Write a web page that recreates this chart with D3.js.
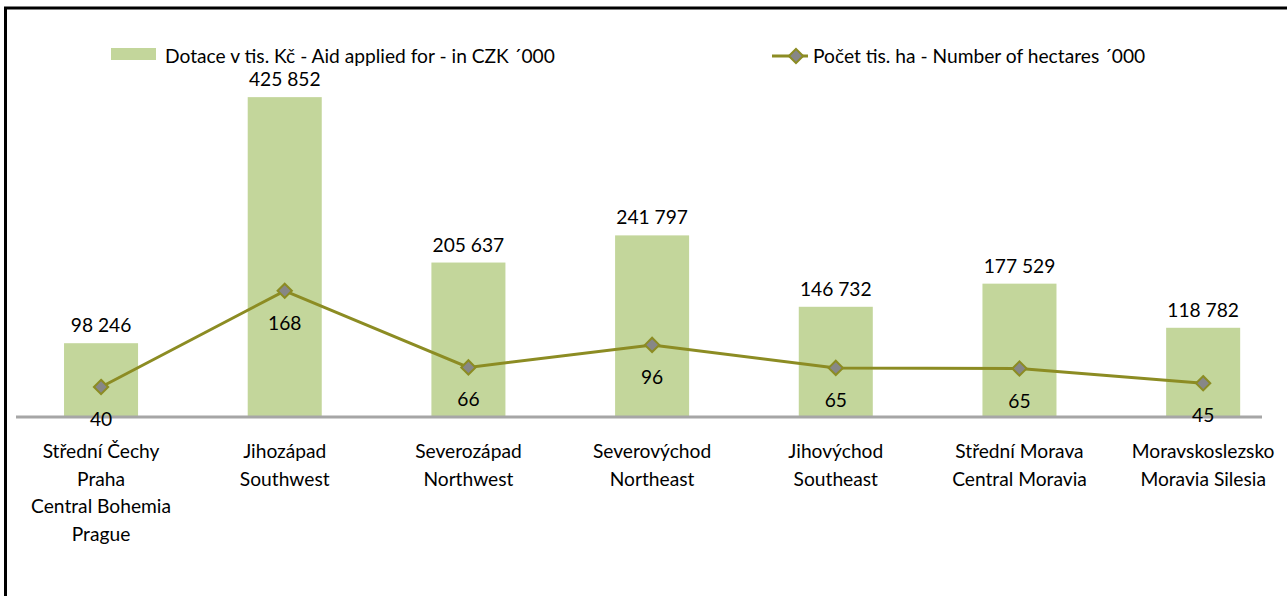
<!DOCTYPE html>
<html>
<head>
<meta charset="UTF-8">
<title>Dotace a počet hektarů podle regionů</title>
<script src="https://d3js.org/d3.v7.min.js"></script>
<style>
    body {
        margin: 0;
        padding: 0;
        background: #ffffff;
        font-family: Lato, "Open Sans", sans-serif;
    }
    text {
        fill: #000000;
        font-size: 19.2px;
    }
</style>
</head>
<body>
<div id="chart"></div>
<script>
    // data
    var regions = [
        ["Střední Čechy", "Praha", "Central Bohemia", "Prague"],
        ["Jihozápad", "Southwest"],
        ["Severozápad", "Northwest"],
        ["Severovýchod", "Northeast"],
        ["Jihovýchod", "Southeast"],
        ["Střední Morava", "Central Moravia"],
        ["Moravskoslezsko", "Moravia Silesia"]
    ];
    var aidValues = [98246, 425852, 205637, 241797, 146732, 177529, 118782];
    var hectareValues = [40, 168, 66, 96, 65.4, 64.5, 45];
    var barLegend = "Dotace v tis. Kč - Aid applied for - in CZK ´000";
    var lineLegend = "Počet tis. ha - Number of hectares ´000";

    var width = 1287,
        height = 596,
        baseline = 417,
        plotTop = 79;

    var barColor = "#c3d69b",
        lineColor = "#8c8c23",
        markerFill = "#878787";

    var svg = d3.select("#chart").append("svg")
        .attr("width", width)
        .attr("height", height);

    // frame
    svg.append("line")
        .attr("x1", 5.5).attr("x2", 5.5)
        .attr("y1", 7).attr("y2", height)
        .attr("stroke", "#000").attr("stroke-width", 3);
    svg.append("line")
        .attr("x1", 4).attr("x2", width)
        .attr("y1", 8).attr("y2", 8)
        .attr("stroke", "#000").attr("stroke-width", 3);

    var idx = d3.range(regions.length);

    var x = d3.scaleBand()
        .domain(idx)
        .range([9.2, 1295])
        .paddingInner(0.597)
        .paddingOuter(0.2985);

    var yAid = d3.scaleLinear()
        .domain([0, 450000])
        .range([baseline, plotTop]);

    var yHa = d3.scaleLinear()
        .domain([0, 450])
        .range([baseline, plotTop]);

    var cx = function(i) { return x(i) + x.bandwidth() / 2; };
    var fmtAid = function(v) { return d3.format(",")(v).replace(/,/g, " "); };
    var fmtHa = d3.format(".0f");

    // bars
    svg.append("g").selectAll("rect")
        .data(aidValues)
        .enter().append("rect")
        .attr("x", function(d, i) { return x(i); })
        .attr("y", function(d) { return yAid(d); })
        .attr("width", x.bandwidth())
        .attr("height", function(d) { return baseline - yAid(d); })
        .attr("fill", barColor);

    // category axis line
    svg.append("line")
        .attr("x1", 16).attr("x2", 1262)
        .attr("y1", baseline).attr("y2", baseline)
        .attr("stroke", "#a6a6a6").attr("stroke-width", 3);

    // bar labels
    svg.append("g").selectAll("text")
        .data(aidValues)
        .enter().append("text")
        .attr("x", function(d, i) { return cx(i); })
        .attr("y", function(d) { return yAid(d) - 11; })
        .attr("text-anchor", "middle")
        .text(fmtAid);

    // hectares line
    var line = d3.line()
        .x(function(d, i) { return cx(i); })
        .y(function(d) { return yHa(d); });

    svg.append("path")
        .datum(hectareValues)
        .attr("d", line)
        .attr("fill", "none")
        .attr("stroke", lineColor)
        .attr("stroke-width", 3);

    var diamond = d3.symbol().type(d3.symbolDiamond2).size(130);

    svg.append("g").selectAll("path")
        .data(hectareValues)
        .enter().append("path")
        .attr("d", diamond)
        .attr("transform", function(d, i) { return "translate(" + cx(i) + "," + yHa(d) + ")"; })
        .attr("fill", markerFill)
        .attr("stroke", lineColor)
        .attr("stroke-width", 2);

    svg.append("g").selectAll("text")
        .data(hectareValues)
        .enter().append("text")
        .attr("x", function(d, i) { return cx(i); })
        .attr("y", function(d) { return yHa(d) + 39; })
        .attr("text-anchor", "middle")
        .text(fmtHa);

    // category labels
    var cats = svg.append("g").selectAll("text")
        .data(regions)
        .enter().append("text")
        .attr("text-anchor", "middle")
        .attr("y", 458);
    cats.selectAll("tspan")
        .data(function(d, i) { return d.map(function(t) { return {t: t, i: i}; }); })
        .enter().append("tspan")
        .attr("x", function(d) { return cx(d.i); })
        .attr("dy", function(d, j) { return j === 0 ? 0 : 27.7; })
        .text(function(d) { return d.t; });

    // legend
    var legend = svg.append("g");
    legend.append("rect")
        .attr("x", 111).attr("y", 48)
        .attr("width", 45).attr("height", 12)
        .attr("fill", barColor);
    legend.append("text")
        .attr("x", 165).attr("y", 63)
        .text(barLegend);

    legend.append("line")
        .attr("x1", 772).attr("x2", 808)
        .attr("y1", 56).attr("y2", 56)
        .attr("stroke", lineColor).attr("stroke-width", 3);
    legend.append("path")
        .attr("d", diamond)
        .attr("transform", "translate(796,56)")
        .attr("fill", markerFill)
        .attr("stroke", lineColor)
        .attr("stroke-width", 2);
    legend.append("text")
        .attr("x", 813).attr("y", 63)
        .text(lineLegend);
</script>
</body>
</html>
